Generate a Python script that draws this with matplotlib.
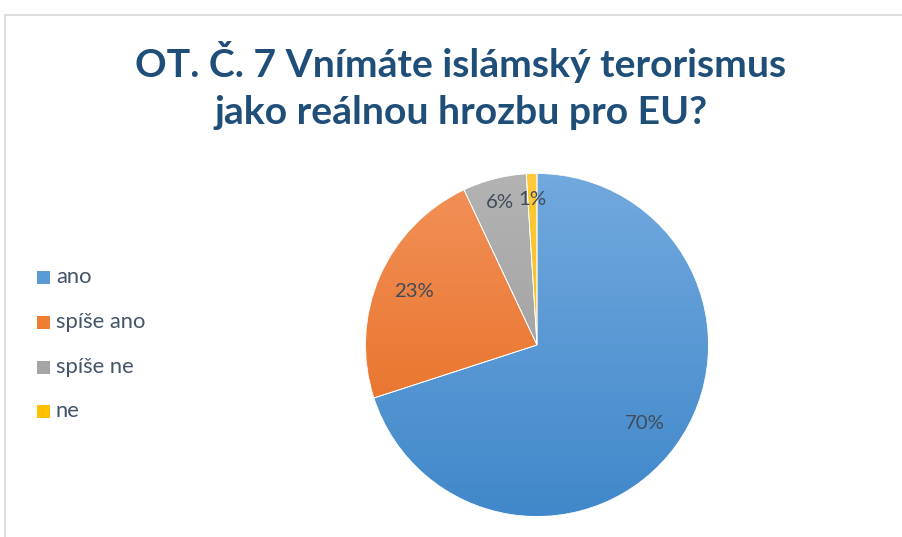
import numpy as np
import matplotlib
matplotlib.use("Agg")
import matplotlib.pyplot as plt
from matplotlib.patches import Rectangle
from matplotlib.colors import LinearSegmentedColormap

title_lines = ["OT. Č. 7 Vnímáte islámský terorismus", "jako reálnou hrozbu pro EU?"]
categories = ["ano", "spíše ano", "spíše ne", "ne"]
values = [70, 23, 6, 1]
label_texts = ["70%", "23%", "6%", "1%"]

top_colors = ["#72A9DE", "#F3915A", "#B3B3B3", "#FFCA3A"]
bot_colors = ["#4088CA", "#E4691A", "#979797", "#EFB200"]
mid_colors = ["#5B9BD5", "#ED7D31", "#A5A5A5", "#FFC000"]

W, H = 903, 537
fig = plt.figure(figsize=(W / 100, H / 100), dpi=100)
fig.patch.set_facecolor("white")

FONT = "Lato"

def px(x, y):
    return x / W, 1 - y / H

# border lines
fig.add_artist(plt.Line2D([5 / W, 1], [1 - 15 / H, 1 - 15 / H], color="#D9D9D9", lw=1.2, transform=fig.transFigure))
fig.add_artist(plt.Line2D([5 / W, 5 / W], [0, 1 - 15 / H], color="#D9D9D9", lw=1.2, transform=fig.transFigure))

renderer = fig.canvas.get_renderer()

def fit_text(x, y, s, target_w, base_size, **kw):
    t = fig.text(*px(x, y), s, fontsize=base_size, **kw)
    w = t.get_window_extent(renderer).width
    t.set_fontsize(base_size * target_w / w)
    return t

# title
tcol = "#1F4E79"
fit_text(461, 62, title_lines[0], 651, 30, ha="center", va="center", color=tcol,
         fontweight="bold", family=FONT)
t2 = fig.texts[-1].get_fontsize()
fig.text(*px(461, 112), title_lines[1], fontsize=t2, ha="center", va="center",
         color=tcol, fontweight="bold", family=FONT)

# pie axes
cx, cy, r = 537, 345, 171.5
ax = fig.add_axes([(cx - r) / W, (H - cy - r) / H, 2 * r / W, 2 * r / H])
wedges, _ = ax.pie(values, startangle=90, counterclock=False, radius=1,
                   wedgeprops=dict(edgecolor="white", linewidth=0.6))
ax.set_xlim(-1, 1)
ax.set_ylim(-1, 1)
ax.set_aspect("auto")
ax.axis("off")

grad = np.linspace(0, 1, 256).reshape(-1, 1)
for w, c0, c1 in zip(wedges, top_colors, bot_colors):
    cmap = LinearSegmentedColormap.from_list("g", [c0, c1])
    im = ax.imshow(grad, extent=(-1, 1, -1, 1), origin="upper", cmap=cmap,
                   aspect="auto", zorder=w.get_zorder() + 0.1)
    im.set_clip_path(w)
    w.set_facecolor("none")
    w.set_zorder(w.get_zorder() + 0.2)

# labels
total = sum(values)
start = 90.0
dists = [0.78, 0.78, 0.86, 0.85]
lab_col = "#404B5A"
lsize = None
for v, txt, d in zip(values, label_texts, dists):
    ang = np.deg2rad(start - 360 * v / total / 2)
    start -= 360 * v / total
    t = ax.text(d * np.cos(ang), d * np.sin(ang), txt, ha="center", va="center",
                color=lab_col, fontsize=14, family=FONT)
    if lsize is None:
        wpx = t.get_window_extent(renderer).width
        lsize = 14 * 40 / wpx
    t.set_fontsize(lsize)

# legend
rows = [277, 322, 367, 411]
leg_size = None
for lab, col, yy in zip(categories, mid_colors, rows):
    fig.add_artist(Rectangle(px(37, yy + 6.5), 13 / W, 13 / H, transform=fig.transFigure,
                             facecolor=col, edgecolor="none"))
    t = fig.text(*px(56, yy), lab, ha="left", va="center", color="#44546A",
                 fontsize=14, family=FONT)
    if leg_size is None:
        leg_size = 14
    if lab == "spíše ano":
        wpx = t.get_window_extent(renderer).width
        leg_size = 14 * 90 / wpx
for t in fig.texts[-4:]:
    t.set_fontsize(leg_size)

fig.savefig("out.png", dpi=100, facecolor="white")
